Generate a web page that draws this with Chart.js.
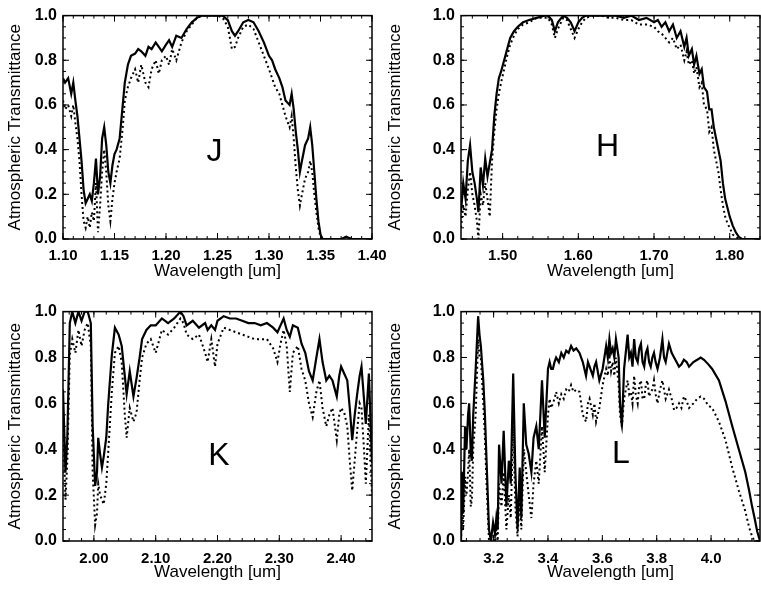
<!DOCTYPE html>
<html>
<head>
<meta charset="utf-8">
<script src="https://cdn.jsdelivr.net/npm/chart.js@4.4.0/dist/chart.umd.min.js"></script>
<style>
  body { margin: 0; background: #fff; }
  #wrap { position: relative; width: 761px; height: 593px; overflow: hidden; }
  .panel { position: absolute; }
</style>
</head>
<body>
<div id="wrap">
  <div class="panel" style="left:0;top:0;width:400px;height:296px"><canvas id="cJ"></canvas></div>
  <div class="panel" style="left:380px;top:0;width:381px;height:296px"><canvas id="cH"></canvas></div>
  <div class="panel" style="left:0;top:296px;width:400px;height:297px"><canvas id="cK"></canvas></div>
  <div class="panel" style="left:380px;top:296px;width:381px;height:297px"><canvas id="cL"></canvas></div>
</div>
<script>
// J band
const jWave = [1.100,1.102,1.105,1.108,1.110,1.112,1.114,1.116,1.118,1.120,1.122,1.124,1.126,1.128,1.130,1.132,1.134,1.136,1.138,1.140,
  1.142,1.144,1.146,1.148,1.150,1.152,1.155,1.158,1.160,1.163,1.166,1.170,1.173,1.176,1.180,1.183,1.186,1.190,1.193,1.196,
  1.200,1.203,1.206,1.210,1.215,1.220,1.225,1.230,1.235,1.240,1.245,1.250,1.255,1.260,1.264,1.267,1.270,1.275,1.280,1.285,
  1.290,1.295,1.300,1.303,1.306,1.310,1.313,1.316,1.320,1.322,1.324,1.326,1.328,1.330,1.332,1.335,1.338,1.340,1.342,1.344,
  1.346,1.348,1.350,1.352,1.360,1.370,1.375,1.380,1.400];
const jSolid = [.72,.70,.72,.65,.70,.62,.55,.45,.35,.22,.16,.18,.20,.17,.25,.36,.20,.28,.45,.50,
  .42,.30,.25,.33,.38,.40,.45,.60,.70,.78,.82,.83,.85,.84,.82,.86,.85,.88,.86,.84,
  .87,.89,.86,.91,.90,.94,.97,.99,1,1,1,1,1,.98,.93,.91,.93,.97,.98,.97,
  .93,.88,.82,.80,.76,.72,.68,.62,.60,.65,.58,.48,.40,.30,.35,.42,.45,.50,.42,.30,
  .18,.08,.02,0,0,0,.01,0,0];
const jDotted = [.62,.58,.60,.55,.60,.52,.45,.35,.20,.08,.05,.10,.05,.12,.08,.25,.03,.15,.30,.40,
  .30,.15,.08,.18,.25,.30,.36,.50,.62,.68,.72,.76,.70,.78,.70,.68,.76,.80,.74,.80,
  .82,.78,.85,.80,.88,.93,.96,.99,1,1,1,1,.99,.95,.85,.86,.90,.95,.96,.94,
  .88,.82,.76,.72,.68,.65,.60,.55,.50,.55,.45,.32,.22,.15,.20,.27,.30,.35,.30,.20,
  .12,.05,.01,0,0,0,.01,0,0];
const jTicks = [1.10,1.15,1.20,1.25,1.30,1.35,1.40];

// H band
const hWave = [1.445,1.448,1.451,1.454,1.457,1.460,1.463,1.466,1.468,1.471,1.474,1.477,1.480,1.483,1.486,1.489,1.492,1.495,1.498,1.502,
  1.506,1.510,1.515,1.520,1.527,1.535,1.545,1.555,1.560,1.565,1.569,1.573,1.580,1.585,1.590,1.595,1.600,1.605,1.610,1.620,
  1.630,1.640,1.650,1.660,1.670,1.680,1.690,1.700,1.705,1.710,1.715,1.720,1.725,1.730,1.735,1.740,1.743,1.746,1.750,1.753,
  1.756,1.760,1.763,1.766,1.770,1.773,1.776,1.779,1.782,1.785,1.788,1.791,1.794,1.797,1.800,1.804,1.808,1.812,1.816,1.840];
const hSolid = [.12,.25,.18,.35,.42,.30,.25,.18,.12,.32,.24,.36,.28,.34,.40,.55,.65,.72,.75,.80,
  .85,.90,.93,.95,.97,.98,.99,1,1,.98,.93,.97,1,.99,.97,.93,.97,.99,1,1,
  1,1,1,.99,1,.98,.99,.97,.98,.95,.97,.93,.96,.90,.93,.86,.90,.82,.85,.78,
  .82,.74,.76,.68,.66,.58,.58,.50,.45,.40,.35,.25,.18,.14,.10,.06,.03,.01,0,0];
const hDotted = [.05,.15,.10,.22,.30,.20,.15,.08,0,.20,.15,.25,.18,.10,.35,.48,.58,.65,.70,.76,
  .82,.87,.91,.94,.96,.97,.99,.99,.99,.96,.90,.94,.99,.98,.94,.90,.94,.97,.99,1,
  1,.99,.99,.98,.98,.96,.96,.95,.93,.92,.90,.88,.90,.85,.87,.80,.84,.78,.80,.74,
  .77,.68,.70,.60,.58,.48,.50,.40,.35,.30,.22,.15,.10,.07,.05,.02,.01,0,0,0];
const hTicks = [1.50,1.60,1.70,1.80];

// K band
const kWave = [1.950,1.954,1.957,1.961,1.965,1.970,1.975,1.980,1.985,1.990,1.995,1.998,2.002,2.005,2.007,2.010,2.013,2.016,2.020,2.023,
  2.029,2.034,2.040,2.045,2.050,2.053,2.058,2.064,2.069,2.074,2.078,2.085,2.092,2.100,2.110,2.120,2.130,2.140,2.145,2.150,
  2.160,2.170,2.180,2.184,2.190,2.196,2.200,2.210,2.220,2.230,2.240,2.250,2.260,2.270,2.280,2.290,2.297,2.302,2.307,2.312,
  2.317,2.322,2.330,2.336,2.342,2.348,2.354,2.360,2.365,2.370,2.376,2.381,2.386,2.390,2.393,2.397,2.400,2.405,2.410,2.414,
  2.418,2.422,2.426,2.430,2.433,2.437,2.440,2.445,2.450];
const kSolid = [.66,.30,.45,.95,1,.95,1,.96,1,1,.95,.50,.24,.30,.45,.38,.32,.37,.45,.59,
  .81,.93,.90,.85,.72,.64,.74,.63,.71,.80,.88,.92,.94,.94,.97,.95,.97,1,.98,.94,
  .96,.93,.95,.92,.94,.92,.96,.98,.97,.97,.96,.95,.95,.94,.95,.93,.91,.94,.97,.92,
  .89,.94,.93,.86,.82,.74,.70,.80,.88,.78,.70,.72,.70,.66,.63,.72,.76,.73,.70,.58,
  .44,.55,.64,.72,.76,.62,.51,.73,.34];
const kDotted = [.55,.18,.35,.81,.88,.82,.92,.85,.92,.95,.85,.30,.07,.12,.25,.20,.18,.16,.25,.38,
  .65,.82,.85,.78,.55,.45,.58,.52,.56,.70,.80,.86,.88,.82,.92,.90,.93,.97,.95,.90,
  .88,.90,.82,.78,.88,.76,.86,.93,.92,.91,.90,.89,.88,.88,.88,.84,.78,.86,.92,.85,
  .65,.82,.85,.75,.70,.60,.54,.65,.70,.58,.50,.55,.58,.50,.44,.55,.58,.56,.50,.35,
  .22,.35,.48,.60,.58,.40,.25,.55,.20];
const kTicks = [2.00,2.10,2.20,2.30,2.40];

// L band
const lWave = [3.080,3.084,3.088,3.095,3.100,3.106,3.110,3.116,3.120,3.125,3.134,3.143,3.148,3.153,3.162,3.168,3.174,3.183,3.190,3.198,
  3.205,3.210,3.215,3.220,3.229,3.237,3.247,3.256,3.263,3.272,3.280,3.288,3.296,3.302,3.311,3.320,3.329,3.339,3.347,3.357,
  3.366,3.378,3.388,3.400,3.406,3.412,3.418,3.424,3.430,3.440,3.449,3.458,3.467,3.476,3.485,3.494,3.504,3.516,3.528,3.540,
  3.547,3.553,3.565,3.571,3.577,3.589,3.601,3.614,3.620,3.626,3.632,3.638,3.644,3.650,3.660,3.665,3.672,3.680,3.693,3.699,
  3.705,3.711,3.717,3.723,3.730,3.736,3.742,3.748,3.754,3.760,3.766,3.772,3.778,3.784,3.790,3.796,3.803,3.812,3.821,3.827,
  3.833,3.839,3.845,3.855,3.864,3.873,3.882,3.891,3.900,3.910,3.919,3.935,3.949,3.962,3.974,3.990,4.004,4.029,4.053,4.078,
  4.102,4.126,4.140,4.151,4.160,4.170,4.180];
const lSolid = [0,.30,.12,.50,.40,.55,.60,.38,.35,.55,.75,.98,.90,.85,.70,.55,.35,.05,0,.08,
  .03,.10,.05,.42,.25,.48,.15,.35,.25,.73,.30,.05,.32,.10,.60,.42,.38,.30,.45,.50,
  .40,.70,.45,.75,.78,.75,.75,.78,.80,.78,.82,.80,.83,.82,.85,.83,.84,.82,.78,.72,
  .78,.76,.72,.76,.78,.70,.75,.85,.80,.88,.82,.84,.80,.88,.80,.60,.50,.75,.90,.80,
  .82,.76,.88,.80,.78,.84,.86,.78,.76,.82,.84,.78,.76,.80,.82,.78,.75,.80,.88,.80,
  .78,.82,.86,.82,.80,.78,.76,.77,.79,.78,.76,.78,.79,.80,.79,.77,.75,.70,.61,.50,
  .40,.30,.22,.15,.10,.04,0];
const lDotted = [0,.15,.05,.28,.20,.30,.40,.15,.18,.40,.55,.88,.80,.80,.60,.45,.25,0,0,.02,
  0,.05,0,.25,.15,.30,.05,.20,.10,.50,.15,.02,.18,.05,.40,.30,.20,.10,.25,.35,
  .25,.50,.30,.55,.62,.58,.60,.62,.65,.60,.64,.62,.66,.65,.68,.65,.66,.65,.55,.52,
  .60,.62,.55,.60,.52,.58,.68,.75,.72,.80,.74,.78,.72,.80,.68,.55,.50,.62,.70,.64,
  .65,.60,.72,.64,.60,.68,.70,.62,.62,.68,.70,.63,.65,.66,.70,.64,.60,.66,.70,.66,
  .62,.64,.66,.62,.57,.58,.60,.58,.63,.61,.58,.60,.62,.63,.62,.59,.58,.52,.44,.32,
  .22,.13,.06,.02,0,0,0];
const lTicks = [3.2,3.4,3.6,3.8,4.0];

const yTicks = [0, 0.2, 0.4, 0.6, 0.8, 1.0];

Chart.defaults.font.family = "'Liberation Sans', Arial, Helvetica, sans-serif";
Chart.defaults.color = '#000';

// frame with inward major/minor ticks on all four sides, plus the band letter
const framePlugin = {
  id: 'frame',
  afterDatasetsDraw(chart, args, o) {
    const { ctx, chartArea: a, scales: { x, y } } = chart;
    ctx.save();
    ctx.strokeStyle = '#000';
    ctx.lineWidth = 1.5;
    ctx.strokeRect(a.left, a.top, a.right - a.left, a.bottom - a.top);
    ctx.lineWidth = 1;
    const marks = (scale, step, len, horiz) => {
      const i0 = Math.ceil(scale.min / step - 1e-6), i1 = Math.floor(scale.max / step + 1e-6);
      for (let i = i0; i <= i1; i++) {
        const p = scale.getPixelForValue(i * step);
        ctx.beginPath();
        if (horiz) {
          ctx.moveTo(p, a.bottom); ctx.lineTo(p, a.bottom - len);
          ctx.moveTo(p, a.top); ctx.lineTo(p, a.top + len);
        } else {
          ctx.moveTo(a.left, p); ctx.lineTo(a.left + len, p);
          ctx.moveTo(a.right, p); ctx.lineTo(a.right - len, p);
        }
        ctx.stroke();
      }
    };
    marks(x, o.xMinor, 3, true);
    marks(x, o.xMajor, 6, true);
    marks(y, 0.05, 3, false);
    marks(y, 0.2, 6, false);
    ctx.fillStyle = '#000';
    ctx.font = "32px 'Liberation Sans', Arial, sans-serif";
    ctx.textAlign = 'center';
    ctx.textBaseline = 'middle';
    ctx.fillText(o.label, a.left + o.lx * (a.right - a.left), a.top + o.ly * (a.bottom - a.top));
    ctx.restore();
  }
};

function makePanel(id, wave, solid, dotted, xTicks, o) {
  new Chart(document.getElementById(id), {
    type: 'line',
    data: {
      datasets: [
        { data: wave.map((w, i) => ({ x: w, y: solid[i] })), borderColor: '#000', borderWidth: 2.2, pointRadius: 0, tension: 0 },
        { data: wave.map((w, i) => ({ x: w, y: dotted[i] })), borderColor: '#000', borderWidth: 2, borderDash: [2, 3], pointRadius: 0, tension: 0 }
      ]
    },
    options: {
      responsive: true,
      maintainAspectRatio: false,
      animation: false,
      layout: { padding: { top: o.padTop, right: o.padRight, left: 0, bottom: 0 } },
      plugins: {
        legend: { display: false },
        tooltip: { enabled: false },
        frame: { label: o.label, lx: o.lx, ly: o.ly, xMajor: o.xMajor, xMinor: o.xMinor }
      },
      scales: {
        x: {
          type: 'linear',
          min: o.xMin,
          max: o.xMax,
          grid: { display: false, drawTicks: false },
          border: { display: false },
          afterBuildTicks: (s) => { s.ticks = xTicks.map(v => ({ value: v })); },
          afterFit: (s) => { s.height = o.xh; },
          ticks: {
            autoSkip: false,
            maxRotation: 0,
            padding: o.xPad,
            font: { size: 15, weight: 'bold' },
            callback: (v) => v.toFixed(o.xDec)
          },
          title: { display: true, text: 'Wavelength [um]', font: { size: 17 }, padding: { top: 0, bottom: o.xTitlePad } }
        },
        y: {
          min: 0,
          max: 1,
          grid: { display: false, drawTicks: false },
          border: { display: false },
          afterBuildTicks: (s) => { s.ticks = yTicks.map(v => ({ value: v })); },
          afterFit: (s) => { s.width = o.yw; },
          ticks: { padding: 6, font: { size: 16, weight: 'bold' }, callback: (v) => v.toFixed(1) },
          title: { display: true, text: 'Atmospheric Transmittance', font: { size: 17 }, padding: { top: 5, bottom: 0 } }
        }
      }
    },
    plugins: [framePlugin]
  });
}

makePanel('cJ', jWave, jSolid, jDotted, jTicks,
  { xMin: 1.10, xMax: 1.40, xMajor: 0.05, xMinor: 0.01, xDec: 2, yw: 63, xh: 57, padTop: 7, padRight: 28, xPad: 8, xTitlePad: 14, label: 'J', lx: 0.49, ly: 0.61 });
makePanel('cH', hWave, hSolid, hDotted, hTicks,
  { xMin: 1.445, xMax: 1.84, xMajor: 0.1, xMinor: 0.02, xDec: 2, yw: 81, xh: 57, padTop: 7, padRight: 1, xPad: 8, xTitlePad: 14, label: 'H', lx: 0.49, ly: 0.59 });
makePanel('cK', kWave, kSolid, kDotted, kTicks,
  { xMin: 1.95, xMax: 2.45, xMajor: 0.1, xMinor: 0.02, xDec: 2, yw: 63, xh: 52, padTop: 15, padRight: 28, xPad: 9, xTitlePad: 10, label: 'K', lx: 0.505, ly: 0.63 });
makePanel('cL', lWave, lSolid, lDotted, lTicks,
  { xMin: 3.08, xMax: 4.18, xMajor: 0.2, xMinor: 0.05, xDec: 1, yw: 81, xh: 52, padTop: 15, padRight: 1, xPad: 9, xTitlePad: 10, label: 'L', lx: 0.535, ly: 0.62 });
</script>
</body>
</html>
